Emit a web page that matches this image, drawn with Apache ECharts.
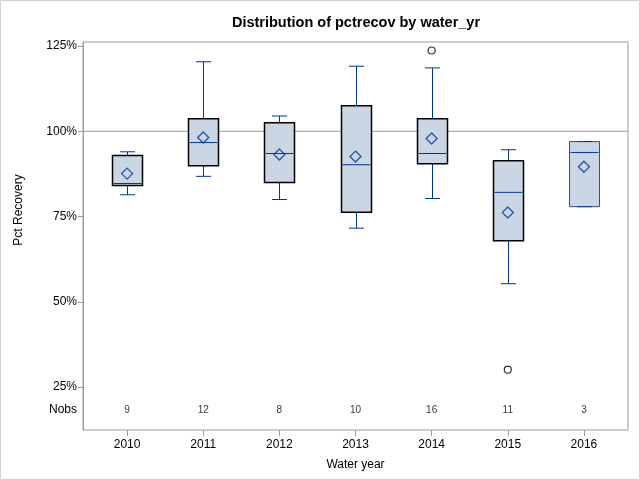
<!DOCTYPE html>
<html>
<head>
<meta charset="utf-8">
<script src="https://cdn.jsdelivr.net/npm/echarts@6/dist/echarts.min.js"></script>
<style>html,body{margin:0;padding:0;background:#fff}#c{width:640px;height:480px}</style>
</head>
<body>
<div id="c"></div>
<script>
const years = ['2010','2011','2012','2013','2014','2015','2016'];
const whiskerLow = [81.4, 86.8, 80.0, 71.6, 80.3, 55.3, 77.9];
const q1 =         [84.1, 89.9, 85.0, 76.3, 90.5, 67.9, 77.9];
const median =     [84.7, 96.7, 93.5, 90.2, 93.5, 82.1, 93.8];
const q3 =         [92.9, 103.7, 102.5, 107.5, 103.7, 91.4, 97.0];
const whiskerHigh =[94.0, 120.4, 104.5, 119.1, 118.6, 94.6, 97.0];
const means =      [87.6, 98.2, 93.2, 92.6, 97.9, 76.2, 89.6];
const outliers = [['2014', 123.7], ['2015', 30.1]];
const nobs = [9, 12, 8, 10, 16, 11, 3];
const yTicks = [25, 50, 75, 100, 125];
const refValue = 100;
const nobsRowValue = 18.3;

const YMIN = 12.4, YMAX = 126.2;
const BLUE = '#003399';
const FILL = '#cbd6e5';
const GRAY = '#9c9ca0';
const FONT = 'Liberation Sans';

const boxData = years.map((y, i) => [i, whiskerLow[i], q1[i], median[i], q3[i], whiskerHigh[i]]);

function renderBox(params, api) {
  const x = api.value(0);
  const pLo = api.coord([x, api.value(1)]);
  const pQ1 = api.coord([x, api.value(2)]);
  const pMed = api.coord([x, api.value(3)]);
  const pQ3 = api.coord([x, api.value(4)]);
  const pHi = api.coord([x, api.value(5)]);
  const cx = Math.round(pMed[0]) + 0.5;
  const bw = 30, cw = 15;
  const lineStyle = {stroke: BLUE, lineWidth: 1};
  const children = [];
  if (Math.abs(pLo[1] - pQ1[1]) > 0.5) {
    children.push({type: 'line', shape: {x1: cx, y1: pQ1[1], x2: cx, y2: pLo[1]}, style: lineStyle});
    children.push({type: 'line', shape: {x1: cx - cw/2, y1: pLo[1], x2: cx + cw/2, y2: pLo[1]}, style: lineStyle});
  }
  if (Math.abs(pHi[1] - pQ3[1]) > 0.5) {
    children.push({type: 'line', shape: {x1: cx, y1: pQ3[1], x2: cx, y2: pHi[1]}, style: lineStyle});
    children.push({type: 'line', shape: {x1: cx - cw/2, y1: pHi[1], x2: cx + cw/2, y2: pHi[1]}, style: lineStyle});
  }
  const isCollapsed = Math.abs(pLo[1] - pQ1[1]) <= 0.5;
  children.push({type: 'rect', shape: {x: cx - bw/2, y: pQ3[1], width: bw, height: pQ1[1] - pQ3[1]},
    style: {fill: FILL, stroke: isCollapsed ? '#33507f' : '#000', lineWidth: isCollapsed ? 1 : 1.5}});
  if (isCollapsed) {
    children.push({type: 'line', shape: {x1: cx - cw/2, y1: pLo[1], x2: cx + cw/2, y2: pLo[1]}, style: lineStyle});
    children.push({type: 'line', shape: {x1: cx - cw/2, y1: pHi[1], x2: cx + cw/2, y2: pHi[1]}, style: lineStyle});
  }
  children.push({type: 'line', shape: {x1: cx - bw/2 + 1, y1: pMed[1], x2: cx + bw/2 - 1, y2: pMed[1]}, style: lineStyle});
  return {type: 'group', children};
}

const chart = echarts.init(document.getElementById('c'), null, {renderer: 'canvas'});
chart.setOption({
  animation: false,
  backgroundColor: '#fff',
  textStyle: {fontFamily: FONT},
  title: {
    text: 'Distribution of pctrecov by water_yr',
    left: 351, top: 10, textAlign: 'center',
    textStyle: {fontFamily: FONT, fontSize: 14.5, fontWeight: 'bold', color: '#000'}
  },
  graphic: [
    {type: 'rect', shape: {x: 0.5, y: 0.5, width: 639, height: 479}, style: {fill: 'none', stroke: '#d0d0d0', lineWidth: 1}, silent: true},
    {type: 'text', x: 19, y: 210, rotation: Math.PI/2, style: {text: 'Pct Recovery', fontFamily: FONT, fontSize: 12, fill: '#000', align: 'center', verticalAlign: 'middle'}}
  ],
  grid: [
    {left: 83, right: 12, top: 42, bottom: 50, show: true, borderColor: GRAY, borderWidth: 1, backgroundColor: 'transparent'},
    {left: 89, right: 18, top: 42, bottom: 50}
  ],
  xAxis: [
    {gridIndex: 0, type: 'value', min: 0, max: 1, show: false},
    {gridIndex: 1, type: 'category', data: years,
      axisLine: {show: false},
      axisTick: {show: true, alignWithLabel: true, length: 6, lineStyle: {color: GRAY}},
      axisLabel: {fontFamily: FONT, fontSize: 12, color: '#000', margin: 9},
      name: 'Water year', nameLocation: 'middle', nameGap: 29,
      nameTextStyle: {fontFamily: FONT, fontSize: 12, color: '#000'},
      splitLine: {show: false}}
  ],
  yAxis: [
    {gridIndex: 0, type: 'value', min: YMIN, max: YMAX,
      axisLine: {show: true, lineStyle: {color: GRAY}},
      axisTick: {show: true, length: 5, customValues: yTicks, lineStyle: {color: GRAY}},
      axisLabel: {fontFamily: FONT, fontSize: 12, color: '#000', margin: 6,
        customValues: [nobsRowValue].concat(yTicks),
        formatter: v => (v < 20 ? 'Nobs' : Math.round(v) + '%')},
      splitLine: {show: false}},
    {gridIndex: 1, type: 'value', min: YMIN, max: YMAX, show: false, splitLine: {show: false}}
  ],
  series: [
    {type: 'line', xAxisIndex: 0, yAxisIndex: 0, data: [[0, refValue], [1, refValue]],
      symbol: 'none', lineStyle: {color: GRAY, width: 1}, z: 1, silent: true},
    {type: 'custom', xAxisIndex: 1, yAxisIndex: 1, data: boxData, renderItem: renderBox, z: 2,
      encode: {x: 0, y: [1, 2, 3, 4, 5]}},
    {type: 'scatter', xAxisIndex: 1, yAxisIndex: 1, data: years.map((y, i) => [y, means[i]]),
      symbol: 'diamond', symbolSize: 11, z: 3,
      itemStyle: {color: 'rgba(0,0,0,0)', borderColor: BLUE, borderWidth: 1.3}},
    {type: 'scatter', xAxisIndex: 1, yAxisIndex: 1, data: outliers,
      symbol: 'circle', symbolSize: 7, z: 3,
      itemStyle: {color: 'rgba(0,0,0,0)', borderColor: '#000', borderWidth: 1.2}},
    {type: 'scatter', xAxisIndex: 1, yAxisIndex: 1, data: years.map((y, i) => [y, nobsRowValue, nobs[i]]),
      symbolSize: 0, z: 3,
      label: {show: true, position: 'inside', formatter: p => String(p.value[2]),
        fontFamily: FONT, fontSize: 10, color: '#000'}}
  ]
});
</script>
</body>
</html>
